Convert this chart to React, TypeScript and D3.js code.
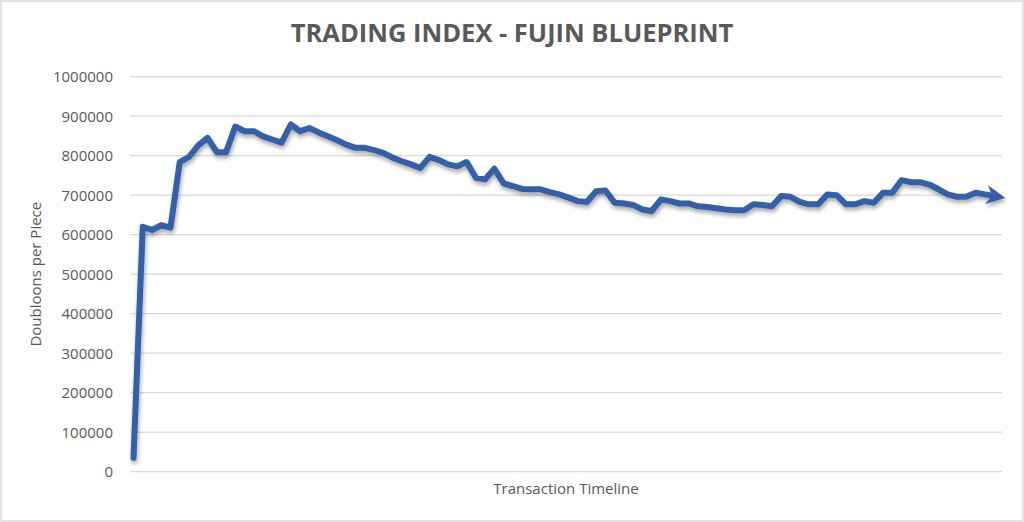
import React from "react";
import { scaleLinear, scalePoint, line, range } from "d3";

// values, one per transaction
const prices = [
  35000, 620000, 612000, 624000, 618000, 784000, 797000, 826000, 845000, 809000,
  809000, 874000, 862000, 862000, 849000, 841000, 833000, 879000, 862000, 870000,
  859000, 849000, 839000, 828000, 820000, 820000, 814000, 807000, 795000, 786000,
  778000, 769000, 797000, 789000, 778000, 773000, 784000, 744000, 740000, 767000,
  730000, 723000, 716000, 715000, 715000, 708000, 702000, 694000, 685000, 683000,
  710000, 712000, 681000, 679000, 675000, 664000, 660000, 689000, 685000, 679000,
  679000, 672000, 670000, 667000, 664000, 662000, 662000, 677000, 675000, 672000,
  698000, 696000, 683000, 677000, 677000, 702000, 700000, 677000, 677000, 685000,
  681000, 706000, 706000, 738000, 733000, 733000, 727000, 715000, 702000, 696000,
  696000, 706000, 702000, 698000,
];
const yTicks = [0, 100000, 200000, 300000, 400000, 500000, 600000, 700000, 800000, 900000, 1000000];

const W = 1024;
const H = 522;
const plot = { left: 130, right: 1002, top: 76.7, bottom: 471.7 };
const textColor = "#595959";
const lineColor = "#3461a9";
const font = "Open Sans, sans-serif";

export default function App() {
  const x = scalePoint<number>()
    .domain(range(prices.length))
    .range([133.5, 994]);
  const y = scaleLinear().domain([0, 1000000]).range([plot.bottom, plot.top]);

  const path = line<number>()
    .x((_, i) => x(i)!)
    .y((d) => y(d))(prices);

  return (
    <div style={{ position: "fixed", left: 0, top: 0 }}>
      <svg width={W} height={H} style={{ display: "block", background: "#fff" }}>
        <defs>
          <filter id="shadow" x="-5%" y="-20%" width="110%" height="140%">
            <feGaussianBlur in="SourceAlpha" stdDeviation="2.2" />
            <feOffset dx="1" dy="3" result="blur" />
            <feComponentTransfer>
              <feFuncA type="linear" slope="0.35" />
            </feComponentTransfer>
            <feMerge>
              <feMergeNode />
              <feMergeNode in="SourceGraphic" />
            </feMerge>
          </filter>
          <marker id="arrow" viewBox="0 0 10 10" refX="4" refY="5" markerWidth="3.2" markerHeight="3.2" orient="auto">
            <path d="M0,0 L10,5 L0,10 L3,5 Z" fill={lineColor} />
          </marker>
        </defs>

        <rect x={1} y={1} width={W - 2} height={H - 2} fill="#fff" stroke="#d9d9d9" strokeWidth={1.5} />

        <text
          x={512}
          y={42}
          textAnchor="middle"
          fontFamily={font}
          fontWeight="bold"
          fontSize={25.5}
          fill={textColor}
        >
          TRADING INDEX - FUJIN BLUEPRINT
        </text>

        {yTicks.map((t) => (
          <g key={t}>
            <line x1={plot.left} x2={plot.right} y1={y(t)} y2={y(t)} stroke="#d9d9d9" strokeWidth={1.3} />
            <text
              x={113}
              y={y(t)}
              dy="0.36em"
              textAnchor="end"
              fontFamily={font}
              fontSize={15}
              fill={textColor}
            >
              {t}
            </text>
          </g>
        ))}

        <text
          transform={`translate(41,${(plot.top + plot.bottom) / 2}) rotate(-90)`}
          textAnchor="middle"
          fontFamily={font}
          fontSize={15}
          fill={textColor}
        >
          Doubloons per Piece
        </text>
        <text
          x={(plot.left + plot.right) / 2}
          y={494}
          textAnchor="middle"
          fontFamily={font}
          fontSize={15}
          fill={textColor}
        >
          Transaction Timeline
        </text>

        <path
          d={path ?? ""}
          fill="none"
          stroke={lineColor}
          strokeWidth={6}
          strokeLinejoin="round"
          strokeLinecap="round"
          markerEnd="url(#arrow)"
          filter="url(#shadow)"
        />
      </svg>
    </div>
  );
}
